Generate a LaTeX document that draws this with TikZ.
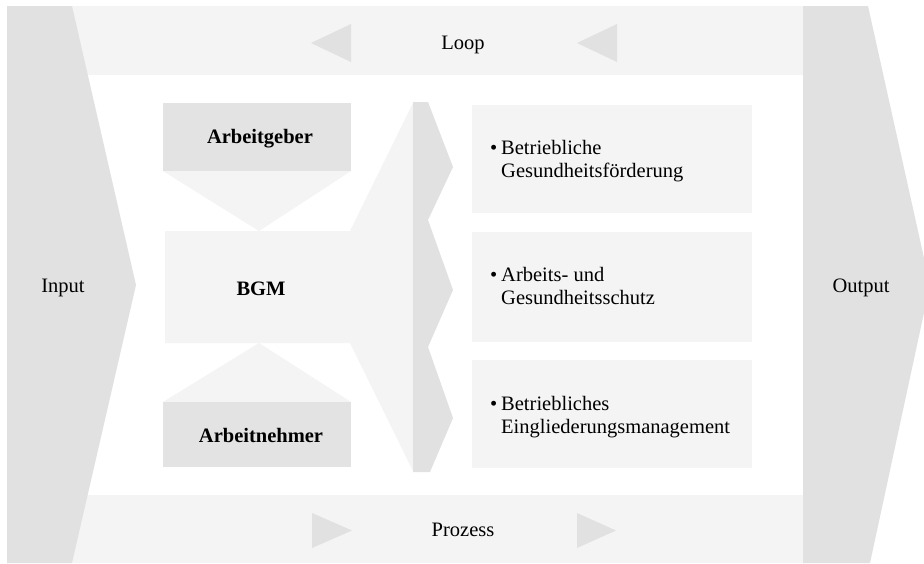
\documentclass[tikz,border=0pt]{standalone}
\usepackage{fontspec}
\setmainfont{Liberation Serif}
\definecolor{darkg}{HTML}{E1E1E1}
\definecolor{boxg}{HTML}{E3E3E3}
\definecolor{lightg}{HTML}{F4F4F4}
\tikzset{
  dk/.style={fill=darkg},
  lt/.style={fill=lightg},
  lbl/.style={inner sep=0pt, font=\fontsize{20.5}{23}\selectfont},
  bold/.style={inner sep=0pt, font=\fontsize{20.5}{23}\selectfont\bfseries},
  item/.style={inner sep=0pt, anchor=west, align=left, font=\fontsize{20.5}{23.5}\selectfont},
}
\begin{document}
\begin{tikzpicture}[x=1pt,y=-1pt]
\useasboundingbox (0,0) rectangle (924,563);
\clip (0,0) rectangle (924,563);
\fill[white] (0,0) rectangle (924,563);
% bands
\path[lt] (7,6) rectangle (803,75);
\path[lt] (7,495) rectangle (803,563);
% loop / process triangles
\path[dk] (311,43) -- (351,24) -- (351,62) -- cycle;
\path[dk] (577,43) -- (617,24) -- (617,62) -- cycle;
\path[dk] (312,513) -- (312,548) -- (352,530.5) -- cycle;
\path[dk] (577,513) -- (577,548) -- (616,530.5) -- cycle;
% input / output
\path[dk] (7,6) -- (72,6) -- (136,285) -- (72,563) -- (7,563) -- cycle;
\path[dk] (803,6) -- (868,6) -- (930,285) -- (870,563) -- (803,563) -- cycle;
% BGM funnel
\path[lt] (165,231) -- (350,231) -- (413,103) -- (413,471) -- (350,343) -- (165,343) -- cycle;
\path[lt] (163,171) -- (351,171) -- (259,231) -- cycle;
\path[lt] (163,402) -- (351,402) -- (259,343) -- cycle;
\path[fill=boxg] (163,103) rectangle (351,171);
\path[fill=boxg] (163,402) rectangle (351,467);
% chevron column
\path[dk] (413,102) -- (428,102) -- (453,167) -- (428,220) -- (453,290) -- (428,347) -- (453,418) -- (430,472) -- (413,472) -- cycle;
% right boxes
\path[lt] (472,105) rectangle (752,213);
\path[lt] (472,232) rectangle (752,342);
\path[lt] (472,360) rectangle (752,468);
% texts
\node[lbl] (loop) at (463,45) {Loop};
\node[lbl] (proz) at (463,530) {Prozess};
\node[lbl] (in) at (63,288) {Input};
\node[lbl] (out) at (861,288) {Output};
\node[bold] (bgm) at (261,289) {BGM};
\node[bold] (ag) at (260,139) {Arbeitgeber};
\node[bold] (an) at (261,435) {Arbeitnehmer};
\node[item] (b1) at (501,161) {\llap{\textbullet\hspace{4pt}}Betriebliche\\Gesundheitsförderung};
\node[item] (b2) at (501,286) {\llap{\textbullet\hspace{4pt}}Arbeits- und\\Gesundheitsschutz};
\node[item] (b3) at (501,417) {\llap{\textbullet\hspace{4pt}}Betriebliches\\Eingliederungsmanagement};
\end{tikzpicture}
\end{document}
